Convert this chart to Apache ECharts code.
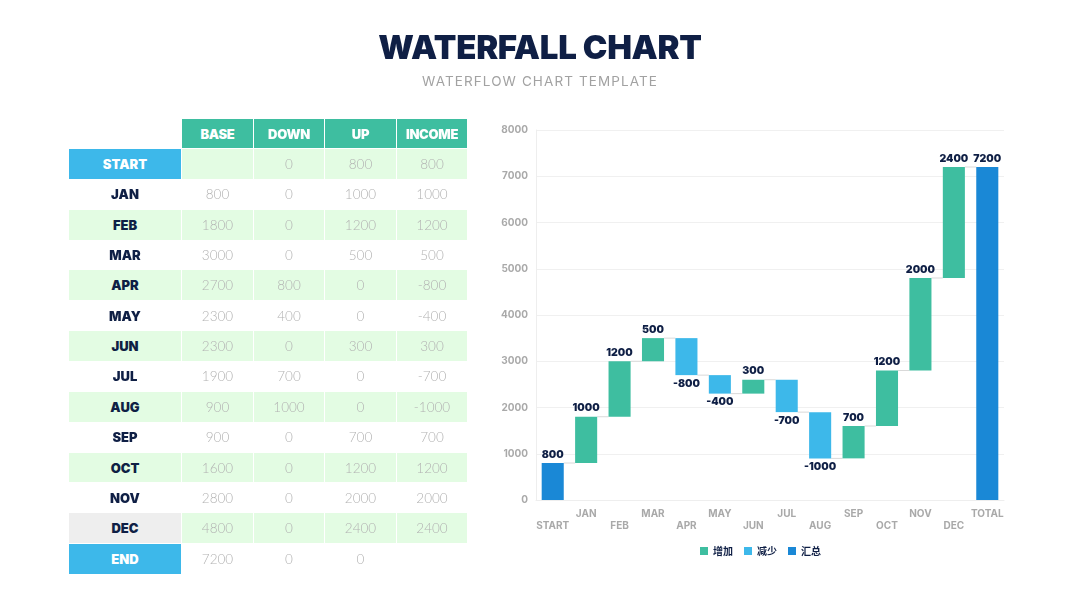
<!DOCTYPE html>
<html>
<head>
<meta charset="utf-8">
<script src="https://cdn.jsdelivr.net/npm/echarts@6/dist/echarts.min.js"></script>
<style>
  html, body { margin: 0; padding: 0; background: #fff; }
  #chart { position: absolute; left: 0; top: 0; width: 1080px; height: 608px; }
  #table { position: absolute; left: 0; top: 0; width: 0; height: 0; }
  #title { position: absolute; left: 0; top: 27px; width: 1080px; text-align: center; color: #0f1f45;
           font-family: Inter, 'DejaVu Sans', sans-serif; font-weight: 900; font-size: 33px; line-height: 40px; letter-spacing: -0.3px; }
  #subtitle { position: absolute; left: 0; top: 72px; width: 1080px; text-align: center; color: #a2a2a2;
           font-family: Inter, Lato, sans-serif; font-weight: 400; font-size: 13.5px; line-height: 18px; letter-spacing: 1.1px; }
  .cell { position: absolute; display: flex; align-items: center; justify-content: center; box-sizing: border-box; font-size: 13px; }
  .hdr { background: #3ebea0; color: #fff; font-family: Inter, 'DejaVu Sans', sans-serif; font-weight: 900; letter-spacing: -0.3px; }
  .lbl { color: #0f1f45; font-family: Inter, 'DejaVu Sans', sans-serif; font-weight: 900; }
  .val { color: #b2b2b2; font-family: Lato, 'Open Sans', sans-serif; font-weight: 300; font-size: 13.5px; }
</style>
</head>
<body>
<div id="chart"></div>
<div id="title">WATERFALL CHART</div>
<div id="subtitle">WATERFLOW CHART TEMPLATE</div>
<div id="table"></div>
<script>
// ---- data ----
const rowLabels = ['START','JAN','FEB','MAR','APR','MAY','JUN','JUL','AUG','SEP','OCT','NOV','DEC','END'];
const colHeaders = ['BASE','DOWN','UP','INCOME'];
const baseVals   = ['', 800, 1800, 3000, 2700, 2300, 2300, 1900, 900, 900, 1600, 2800, 4800, 7200];
const downVals   = [0, 0, 0, 0, 800, 400, 0, 700, 1000, 0, 0, 0, 0, 0];
const upVals     = [800, 1000, 1200, 500, 0, 0, 300, 0, 0, 700, 1200, 2000, 2400, 0];
const incomeVals = [800, 1000, 1200, 500, -800, -400, 300, -700, -1000, 700, 1200, 2000, 2400, ''];

const chartCategories = ['START','JAN','FEB','MAR','APR','MAY','JUN','JUL','AUG','SEP','OCT','NOV','DEC','TOTAL'];
const yTicks = [0, 1000, 2000, 3000, 4000, 5000, 6000, 7000, 8000];
const legendNames = ['增加', '减少', '汇总'];

// ---- table ----
const tbl = document.getElementById('table');
const colX = [69, 182, 254, 325, 397];
const colW = [112, 71, 70, 71, 70];
function addCell(x, y, w, h, text, cls, bg) {
  const d = document.createElement('div');
  d.className = 'cell ' + cls;
  d.style.left = x + 'px'; d.style.top = y + 'px';
  d.style.width = w + 'px'; d.style.height = h + 'px';
  if (bg) d.style.background = bg;
  d.textContent = text;
  tbl.appendChild(d);
  return d;
}
colHeaders.forEach((h, j) => addCell(colX[j + 1], 119, colW[j + 1], 29, h, 'hdr'));
const rowH = 30.36;
rowLabels.forEach((r, i) => {
  const y = 149 + i * rowH;
  const green = (i % 2 === 0);
  const dataBg = green && i !== 13 ? '#e3fce3' : null;
  let lblBg = null;
  if (i === 0 || i === 13) { lblBg = '#3db8ea'; }
  else if (i === 12) { lblBg = '#eeeeee'; }
  else if (green) { lblBg = '#e3fce3'; }
  const lc = addCell(colX[0], y, colW[0], rowH - 0.5, r, 'lbl', lblBg);
  if (i === 0 || i === 13) lc.style.color = '#fff';
  const vals = [baseVals[i], downVals[i], upVals[i], incomeVals[i]];
  vals.forEach((v, j) => addCell(colX[j + 1], y, colW[j + 1], rowH - 0.5, String(v), 'val', dataBg));
});

// ---- chart series derived from the table ----
const n = chartCategories.length;
const baseSeries = [], upSeries = [], downSeries = [], totalSeries = [], ends = [];
for (let i = 0; i < n; i++) {
  const isTotal = (i === 0 || i === n - 1);
  if (isTotal) {
    baseSeries.push('-');
    upSeries.push('-'); downSeries.push('-');
    totalSeries.push(i === 0 ? upVals[0] : baseVals[n - 1]);
  } else {
    baseSeries.push(baseVals[i]);
    upSeries.push(upVals[i] > 0 ? upVals[i] : '-');
    downSeries.push(downVals[i] > 0 ? downVals[i] : '-');
    totalSeries.push('-');
  }
}
// cumulative end level after each bar (for connectors)
let level = 0;
for (let i = 0; i < n - 1; i++) {
  if (i === 0) level = upVals[0]; else level += incomeVals[i];
  ends.push([i, level]);
}

const BAR_RATIO = 0.66;
const navy = '#0f1f45';
const labelStyle = { color: navy, fontWeight: 900, fontSize: 10.5, fontFamily: 'Inter, DejaVu Sans, sans-serif' };

const chart = echarts.init(document.getElementById('chart'), null, { renderer: 'canvas' });
chart.setOption({
  animation: false,
  legend: {
    data: legendNames, left: 695, top: 541,
    itemWidth: 8, itemHeight: 8, itemGap: 11, icon: 'rect',
    textStyle: { color: navy, fontWeight: 'bold', fontSize: 10, fontFamily: 'Noto Sans CJK SC' }
  },
  grid: { left: 536, right: 76, top: 130, bottom: 108 },
  xAxis: {
    type: 'category', data: chartCategories,
    axisTick: { show: false },
    axisLine: { lineStyle: { color: '#eeeeee' } },
    axisLabel: {
      interval: 0, margin: 8, color: '#a9a9a9', fontWeight: 'bold', fontSize: 10, lineHeight: 12,
      fontFamily: 'Inter, DejaVu Sans, sans-serif',
      formatter: (v, i) => (i % 2 === 0 ? '\n' + v : v)
    }
  },
  yAxis: {
    type: 'value', min: yTicks[0], max: yTicks[yTicks.length - 1], interval: yTicks[1] - yTicks[0],
    axisLine: { show: true, lineStyle: { color: '#eeeeee' } },
    axisTick: { show: false },
    splitLine: { lineStyle: { color: '#f0f0f0' } },
    axisLabel: { color: '#a9a9a9', fontWeight: 'bold', fontSize: 10, margin: 8, fontFamily: 'Inter, DejaVu Sans, sans-serif',
                 formatter: v => String(v) }
  },
  series: [
    { name: 'base', type: 'bar', stack: 'w', barWidth: (BAR_RATIO * 100) + '%', itemStyle: { color: 'transparent' }, data: baseSeries, silent: true },
    { name: legendNames[0], type: 'bar', stack: 'w', itemStyle: { color: '#3ebea0' }, data: upSeries,
      label: { show: true, position: 'top', distance: 3, ...labelStyle } },
    { name: legendNames[1], type: 'bar', stack: 'w', itemStyle: { color: '#3db8ea' }, data: downSeries,
      label: { show: true, position: 'bottom', distance: 3, formatter: p => '-' + p.value, ...labelStyle } },
    { name: legendNames[2], type: 'bar', stack: 'w', itemStyle: { color: '#1a88d6' }, data: totalSeries,
      label: { show: true, position: 'top', distance: 3, ...labelStyle } },
    { name: 'connector', type: 'custom', silent: true, z: 1,
      renderItem: (params, api) => {
        const p = api.coord([api.value(0), api.value(1)]);
        const bw = api.size([1, 0])[0];
        const half = bw * BAR_RATIO / 2;
        return { type: 'line', shape: { x1: p[0] + half, y1: p[1], x2: p[0] + bw - half, y2: p[1] },
                 style: { stroke: '#d9d9d9', lineWidth: 1 } };
      },
      data: ends }
  ]
});
</script>
</body>
</html>
